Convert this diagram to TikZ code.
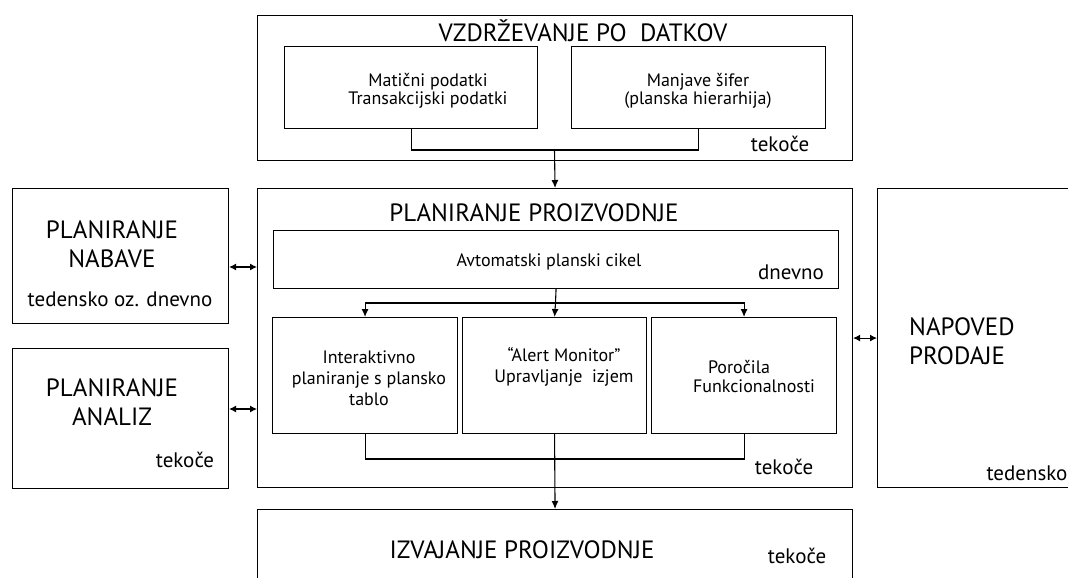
\documentclass[tikz,border=0pt]{standalone}
\usepackage{fontspec}
\setmainfont{PT Sans}
\usetikzlibrary{arrows.meta}
\begin{document}
\begin{tikzpicture}[x=1pt,y=-1pt,
  box/.style={draw=black,line width=1.1pt,rectangle,inner sep=0pt,anchor=north west},
  big/.style={font=\fontsize{25}{29}\selectfont,inner sep=0pt,align=center},
  mid/.style={font=\fontsize{18}{18}\selectfont,inner sep=0pt,align=center},
  midb/.style={font=\fontsize{18}{21}\selectfont,inner sep=0pt,align=center},
  freq/.style={font=\fontsize{21}{24}\selectfont,inner sep=0pt},
  con/.style={line width=1.1pt},
  arr/.style={line width=1.1pt,-{Latex[length=8pt,width=7pt]}},
  dbl/.style={line width=1.1pt,{Latex[length=7pt,width=7pt]}-{Latex[length=7pt,width=7pt]}}]
\clip (0,0) rectangle (1068,578);
\fill[white] (0,0) rectangle (1068,578);
% boxes
\node[box,minimum width=595pt,minimum height=145pt] (top) at (257,15) {};
\node[box,minimum width=253pt,minimum height=82pt] (m1) at (284,46) {};
\node[box,minimum width=254pt,minimum height=82pt] (m2) at (571,46) {};
\node[box,minimum width=595pt,minimum height=299pt] (plan) at (257,188) {};
\node[box,minimum width=565pt,minimum height=58pt] (auto) at (273,230) {};
\node[box,minimum width=185pt,minimum height=116pt] (ba) at (272,317) {};
\node[box,minimum width=184pt,minimum height=116pt] (bb) at (462,317) {};
\node[box,minimum width=185pt,minimum height=116pt] (bc) at (651,317) {};
\node[box,minimum width=595pt,minimum height=100pt] (izv) at (257,509) {};
\node[box,minimum width=216pt,minimum height=135pt] (nab) at (12,188) {};
\node[box,minimum width=216pt,minimum height=140pt] (ana) at (12,348) {};
\node[box,minimum width=230pt,minimum height=299pt] (nap) at (877,188) {};
% texts
\node[big] (ttop) at (583,31) {VZDRŽEVANJE PO~~DATKOV};
\node[mid] (tm1) at (428,91) {Matični podatki\\Transakcijski podatki};
\node[mid] (tm2) at (698,91) {Manjave šifer\\(planska hierarhija)};
\node[freq] (ftop) at (780,144) {tekoče};
\node[big] (tplan) at (534,213) {PLANIRANJE PROIZVODNJE};
\node[mid] (tauto) at (549,262) {Avtomatski planski cikel};
\node[freq] (fauto) at (791,272) {dnevno};
\node[midb] (tba) at (369,378) {Interaktivno\\planiranje s plansko\\tablo};
\node[midb] (tbb) at (564,367) {“Alert Monitor”\\Upravljanje~~izjem};
\node[mid] (tbc1) at (739,367) {Poročila};
\node[mid] (tbc2) at (754,386) {Funkcionalnosti};
\node[freq] (fplan) at (784,467) {tekoče};
\node[big] (tizv) at (522,550) {IZVAJANJE PROIZVODNJE};
\node[freq] (fizv) at (797,556) {tekoče};
\node[big] (tnab) at (112,244) {PLANIRANJE\\NABAVE};
\node[freq] (fnab) at (120,299) {tedensko oz. dnevno};
\node[big] (tana) at (112,402) {PLANIRANJE\\ANALIZ};
\node[freq] (fana) at (185,460) {tekoče};
\node[big,align=left,anchor=west] (tnap) at (909,341) {NAPOVED\\PRODAJE};
\node[freq] (fnap) at (1027,473) {tedensko};
% connectors
\coordinate (jt) at (554.5,150);
\draw[con] (m1.south) |- (jt) -| (m2.south);
\draw[arr] (jt) -- (plan.north);
\coordinate (jb) at (555.5,303);
\draw[con] (auto.south) -- (jb);
\draw[arr] (jb) -| (ba.north);
\draw[arr] (jb) -| (bc.north);
\draw[arr] (jb) -- (bb.north);
\coordinate (jl) at (554,459);
\draw[con] (ba.south) |- (jl) -| (bc.south);
\draw[arr] (bb.south) -- (izv.north);
\coordinate (ya) at (0,267);
\coordinate (yb) at (0,409);
\draw[dbl] (nab.east |- ya) -- (plan.west |- ya);
\draw[dbl] (ana.east |- yb) -- (plan.west |- yb);
\draw[dbl] (plan.east) -- (nap.west);
\end{tikzpicture}
\end{document}
